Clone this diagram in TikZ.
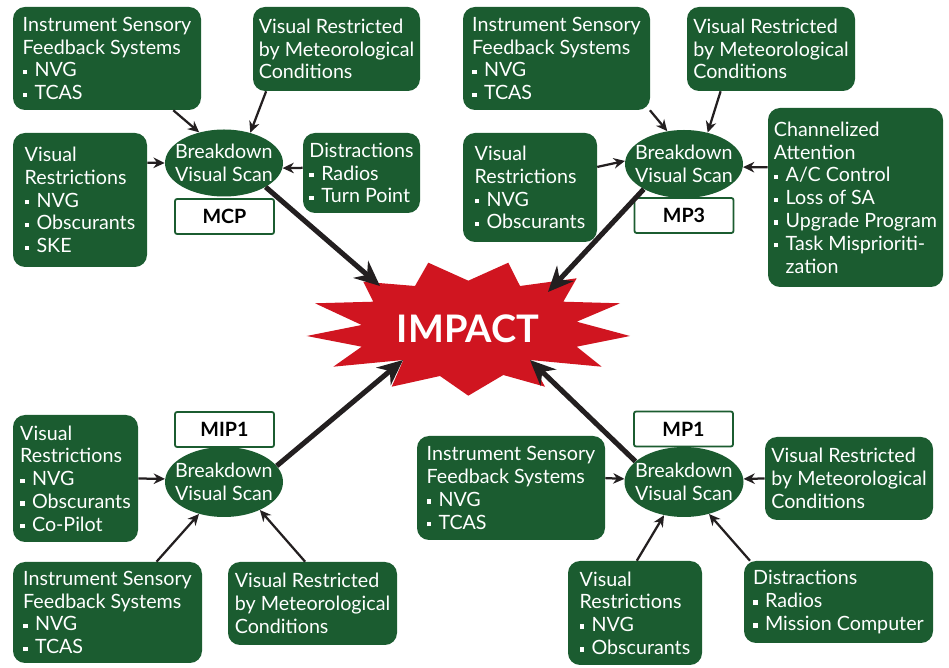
\documentclass[tikz,border=0pt]{standalone}
\usepackage{fontspec}
\setmainfont{Lato}
\usetikzlibrary{arrows.meta,shapes.geometric}
\definecolor{leaf}{RGB}{27,92,48}
\definecolor{impactred}{RGB}{208,21,32}
\definecolor{ink}{HTML}{231F20}
\newcommand{\bul}{\raisebox{0.28ex}{\rule{0.22em}{0.22em}}\hspace{0.38em}}

\begin{document}
\begin{tikzpicture}[x=0.025cm, y=-0.025cm,
  every node/.style={font=\fontsize{14}{16.2}\selectfont},
  sz/.style 2 args={minimum width=#1*0.025cm, minimum height=#2*0.025cm},
  card/.style={rectangle, fill=leaf, text=white, rounded corners=0.3cm,
               align=left, inner sep=0pt},
  scan/.style={ellipse, fill=leaf, text=white, align=left,
               inner xsep=-0.3cm, inner ysep=0pt},
  tag/.style={rectangle, draw=leaf, line width=1.3pt, fill=white,
              rounded corners=1.5pt, inner sep=0pt, sz={99}{35},
              font=\fontsize{14}{16}\selectfont\bfseries},
  arr/.style={-{Stealth[length=8pt, width=7.5pt]}, line width=1.6pt, draw=ink},
  hit/.style={-{Stealth[length=18pt, width=16pt]}, line width=3.6pt, draw=ink},
]
\useasboundingbox (0,0) rectangle (949,668);

% MCP
\node[card, sz={188}{103}] (isfA) at (107,58.5)
  {Instrument Sensory\\Feedback Systems\\\bul NVG\\\bul TCAS};
\node[card, sz={167}{84}] (vrmA) at (336.5,49)
  {Visual Restricted\\by Meteorological\\Conditions};
\node[card, sz={134}{134}] (vrA) at (80,200)
  {Visual\\Restrictions\\\bul NVG\\\bul Obscurants\\\bul SKE};
\node[card, sz={117}{80}] (disA) at (361.5,173)
  {Distractions\\\bul Radios\\\bul Turn Point};
\node[scan, sz={118}{67}] (scanA) at (224,163) {Breakdown\\Visual Scan};
\node[tag] (tagA) at (224.5,216.5) {MCP};

% MP3
\node[card, sz={187}{103}] (isfB) at (556.5,58.5)
  {Instrument Sensory\\Feedback Systems\\\bul NVG\\\bul TCAS};
\node[card, sz={168}{84}] (vrmB) at (771,49)
  {Visual Restricted\\by Meteorological\\Conditions};
\node[card, sz={134}{109}] (vrB) at (530,187.5)
  {Visual\\Restrictions\\\bul NVG\\\bul Obscurants};
\node[card, sz={175}{179}] (caB) at (855.5,197.5)
  {Channelized\\Attention\\\bul A/C Control\\\bul Loss of SA\\\bul Upgrade Program\\
   \bul Task Misprioriti-\\\hphantom{\bul}zation};
\node[scan, sz={118}{68}] (scanB) at (684,164) {Breakdown\\Visual Scan};
\node[tag] (tagB) at (684,215.5) {MP3};

% MIP1
\node[card, sz={125}{127}] (vrC) at (75.5,478.5)
  {Visual\\Restrictions\\\bul NVG\\\bul Obscurants\\\bul Co-Pilot};
\node[card, sz={189}{101}] (isfC) at (107.5,612.5)
  {Instrument Sensory\\Feedback Systems\\\bul NVG\\\bul TCAS};
\node[card, sz={169}{83}] (vrmC) at (312.5,603.5)
  {Visual Restricted\\by Meteorological\\Conditions};
\node[scan, sz={118}{70}] (scanC) at (224,482) {Breakdown\\Visual Scan};
\node[tag] (tagC) at (224.5,429.5) {MIP1};

% MP1
\node[card, sz={188}{104}] (isfD) at (511,488)
  {Instrument Sensory\\Feedback Systems\\\bul NVG\\\bul TCAS};
\node[card, sz={168}{83}] (vrmD) at (849,478.5)
  {Visual Restricted\\by Meteorological\\Conditions};
\node[card, sz={134}{104}] (vrD) at (635,613)
  {Visual\\Restrictions\\\bul NVG\\\bul Obscurants};
\node[card, sz={189}{82}] (disD) at (838.5,602)
  {Distractions\\\bul Radios\\\bul Mission Computer};
\node[scan, sz={119}{70}] (scanD) at (684,482) {Breakdown\\Visual Scan};
\node[tag] (tagD) at (683.5,429) {MP1};

% the burst
\fill[impactred] (306.7,336) -- (361.7,325) -- (315,303.3) -- (373.3,301.7)
  -- (363.3,281.7) -- (415,286) -- (428.3,262.7) -- (468.3,280.7)
  -- (508.3,262.7) -- (520,286) -- (576.7,278.3) -- (563.3,301.7)
  -- (620,303.3) -- (576.7,321.7) -- (630,336) -- (576.7,346.7)
  -- (601.7,366.7) -- (530,360) -- (545,386.7) -- (503.3,375)
  -- (468.3,395.7) -- (440,376) -- (391.7,386.7) -- (403.3,360)
  -- (333.3,366.7) -- (361.7,346.7) -- cycle;
\node[font=\fontsize{27}{30}\selectfont\bfseries, text=white] (impact)
  at (468,329) {IMPACT};
\coordinate (hitA) at (380,286);
\coordinate (hitB) at (548,292);
\coordinate (hitC) at (403,360);
\coordinate (hitD) at (530,360);

\draw[arr] (isfA.-38) -- (scanA.129);
\draw[arr] (vrmA.211) -- (scanA.49);
\draw[arr] (vrA.29) -- (scanA.west);
\draw[arr] (disA.175) -- (scanA.-5);
\draw[hit] (scanA.-30) -- (hitA);

\draw[arr] (isfB.-29) -- (scanB.117);
\draw[arr] (vrmB.220) -- (scanB.53);
\draw[arr] (vrB.17) -- (scanB.177);
\draw[arr] (caB.161) -- (scanB.-3);
\draw[hit] (scanB.212) -- (hitB);

\draw[arr] (vrC.east) -- (scanC.177);
\draw[arr] (isfC.46) -- (scanC.232);
\draw[arr] (vrmC.100) -- (scanC.-38);
\draw[hit] (scanC.17) -- (hitC);

\draw[arr] (isfD.6) -- (scanD.177);
\draw[arr] (vrmD.west) -- (scanD.3);
\draw[arr] (vrD.88) -- (scanD.239);
\draw[arr] (disD.155) -- (scanD.-52);
\draw[hit] (scanD.157) -- (hitD);
\end{tikzpicture}
\end{document}
